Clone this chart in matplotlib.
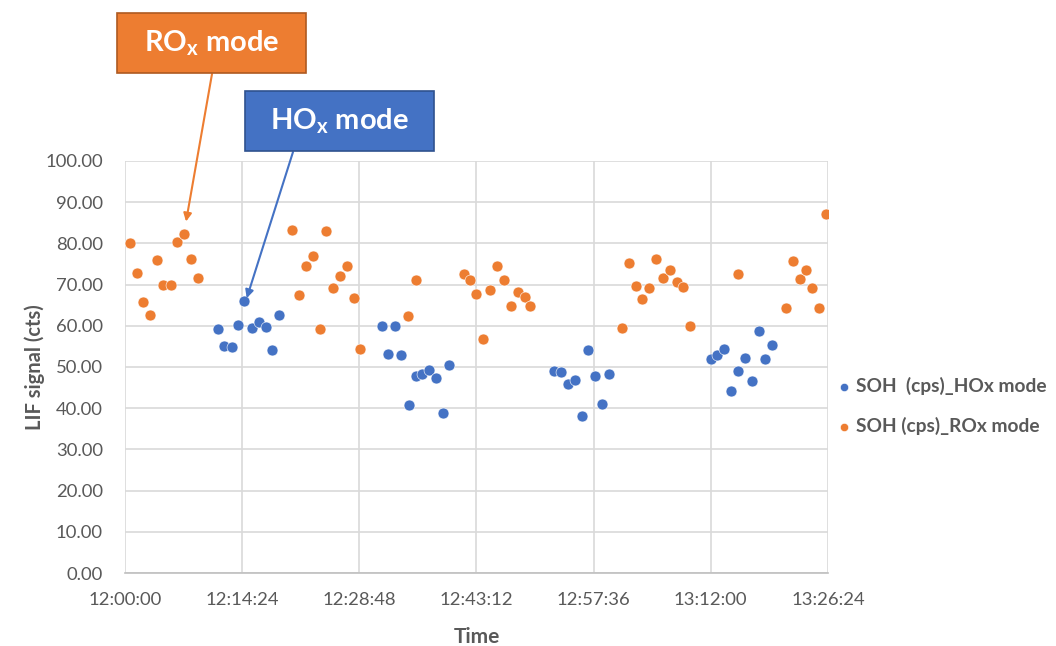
import matplotlib
matplotlib.use("Agg")
import matplotlib.pyplot as plt
from matplotlib.ticker import FuncFormatter, MultipleLocator
from matplotlib.patches import Rectangle

plt.rcParams['font.family'] = ['Lato', 'DejaVu Sans']
plt.rcParams['mathtext.fontset'] = 'custom'
plt.rcParams['mathtext.rm'] = 'Lato'
plt.rcParams['mathtext.bf'] = 'Lato:bold'

# minutes after 12:00:00
hox_t = [11.47, 12.20, 13.11, 13.92, 14.66, 15.57, 16.43, 17.29, 18.10, 18.96,
         31.55, 32.32, 33.14, 33.96, 34.87, 35.73, 36.54, 37.32, 38.18, 39.04, 39.78,
         52.76, 53.62, 54.48, 55.34, 56.13, 56.94, 57.80, 58.66, 59.44,
         72.02, 72.75, 73.58, 74.48, 75.33, 76.16, 77.02, 77.88, 78.62, 79.48]
hox_v = [59.1, 55.0, 54.9, 60.1, 66.0, 59.5, 60.9, 59.7, 54.2, 62.7,
         60.0, 53.1, 60.0, 52.9, 40.7, 47.8, 48.3, 49.2, 47.3, 38.8, 50.4,
         49.1, 48.7, 45.9, 46.8, 38.2, 54.2, 47.9, 40.9, 48.3,
         52.0, 53.0, 54.4, 44.2, 49.1, 52.3, 46.6, 58.8, 51.9, 55.3]

rox_t = [0.61, 1.44, 2.25, 3.07, 3.90, 4.71, 5.62, 6.35, 7.25, 8.07, 8.93,
         20.56, 21.42, 22.28, 23.14, 23.96, 24.74, 25.60, 26.42, 27.28, 28.14, 28.88,
         34.82, 35.73, 41.63, 42.36, 43.17, 44.03, 44.89, 45.75, 46.58, 47.47, 48.34, 49.16, 49.81,
         61.12, 61.98, 62.84, 63.57, 64.43, 65.29, 66.15, 66.98, 67.84, 68.61, 69.44,
         75.33, 81.20, 82.06, 82.92, 83.65, 84.47, 85.33, 86.19]
rox_v = [80.1, 72.8, 65.8, 62.6, 76.0, 69.9, 70.0, 80.3, 82.3, 76.2, 71.6,
         83.3, 67.5, 74.4, 76.9, 59.2, 82.9, 69.2, 72.1, 74.6, 66.7, 54.4,
         62.4, 71.0, 72.6, 71.0, 67.7, 56.8, 68.8, 74.5, 71.0, 64.7, 68.3, 66.9, 64.9,
         59.5, 75.3, 69.6, 66.5, 69.2, 76.1, 71.6, 73.5, 70.6, 69.3, 59.9,
         72.5, 64.2, 75.7, 71.4, 73.5, 69.2, 64.2, 87.1]

x_ticks = [0, 14.4, 28.8, 43.2, 57.6, 72.0, 86.4]
series_labels = ["SOH  (cps)_HOx mode", "SOH (cps)_ROx mode"]

BLUE = "#4472C4"
ORANGE = "#ED7D31"
GRAY = "#595959"

fig = plt.figure(figsize=(10.56, 6.46), dpi=100)
ax = fig.add_axes([0.1184, 0.113, 0.6656, 0.6378])

ax.scatter(hox_t, hox_v, s=62, color=BLUE, edgecolors='white', linewidths=0.4,
           label=series_labels[0], zorder=3)
ax.scatter(rox_t, rox_v, s=62, color=ORANGE, edgecolors='white', linewidths=0.4,
           label=series_labels[1], zorder=3)

ax.set_xlim(0, 86.4)
ax.set_ylim(0, 100)
ax.set_xticks(x_ticks)

def fmt_time(m, pos):
    s = int(round(m * 60))
    h = 12 + s // 3600
    mm = (s % 3600) // 60
    ss = s % 60
    return f"{h}:{mm:02d}:{ss:02d}"

ax.xaxis.set_major_formatter(FuncFormatter(fmt_time))
ax.yaxis.set_major_locator(MultipleLocator(10))
ax.yaxis.set_major_formatter(FuncFormatter(lambda v, p: f"{v:.2f}"))

ax.grid(True, color="#D9D9D9", linewidth=1.2)
ax.set_axisbelow(True)
for s in ['top', 'right', 'left']:
    ax.spines[s].set_visible(False)
ax.spines['bottom'].set_color("#BFBFBF")
ax.spines['bottom'].set_linewidth(1.2)
ax.tick_params(length=0, labelsize=13.3, colors=GRAY)
ax.tick_params(axis='x', pad=14)
ax.tick_params(axis='y', pad=16)

ax.set_ylabel("LIF signal (cts)", fontsize=14.5, fontweight='bold', color=GRAY, va='center')
ax.yaxis.set_label_coords(-0.128, 0.5)
ax.set_xlabel("Time", fontsize=15, fontweight='bold', color=GRAY, va='center')
ax.xaxis.set_label_coords(0.5, -0.155)

leg = ax.legend(loc='center left', bbox_to_anchor=(0.995, 0.405), frameon=False,
                handletextpad=0.05, markerscale=0.75, labelspacing=1.15,
                handlelength=1.2, borderaxespad=0.0,
                prop={'weight': 'bold', 'size': 13.8})
for t in leg.get_texts():
    t.set_color(GRAY)

# annotation boxes
fig.patches.append(Rectangle((117/1056, 1 - 73/646), 189/1056, 60/646,
                             transform=fig.transFigure, facecolor=ORANGE,
                             edgecolor="#AE5A21", linewidth=1.2))
fig.text((117 + 189/2)/1056, 1 - 43/646, r"RO$_{\mathbf{x}}$ mode", color='white',
         fontsize=21, fontweight='bold', ha='center', va='center')
fig.patches.append(Rectangle((245/1056, 1 - 151/646), 189/1056, 60/646,
                             transform=fig.transFigure, facecolor=BLUE,
                             edgecolor="#2F528F", linewidth=1.2))
fig.text((245 + 189/2)/1056, 1 - 121/646, r"HO$_{\mathbf{x}}$ mode", color='white',
         fontsize=21, fontweight='bold', ha='center', va='center')

ax.annotate("", xy=(7.5, 85.3), xycoords='data',
            xytext=(212, 646 - 74), textcoords='figure pixels',
            arrowprops=dict(arrowstyle='-|>', color=ORANGE, lw=1.5, mutation_scale=12,
                            shrinkA=0, shrinkB=0), annotation_clip=False)
ax.annotate("", xy=(14.96, 66.7), xycoords='data',
            xytext=(293, 646 - 152), textcoords='figure pixels',
            arrowprops=dict(arrowstyle='-|>', color=BLUE, lw=1.5, mutation_scale=12,
                            shrinkA=0, shrinkB=0), annotation_clip=False)

fig.savefig("out.png", dpi=100)
